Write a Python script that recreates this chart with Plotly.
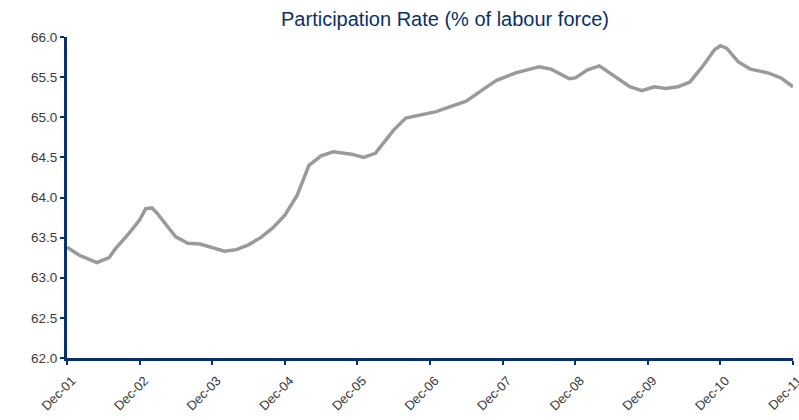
import plotly.graph_objects as go

# Participation rate, % of labour force
dates = [
    "2001-12-01", "2002-02-01", "2002-05-01", "2002-07-01", "2002-08-01", "2002-10-01",
    "2002-12-01", "2003-01-01", "2003-02-01", "2003-03-01", "2003-06-01", "2003-08-01",
    "2003-10-01", "2003-12-01", "2004-02-01", "2004-04-01", "2004-06-01", "2004-08-01",
    "2004-10-01", "2004-12-01", "2005-02-01", "2005-04-01", "2005-06-01", "2005-08-01",
    "2005-11-01", "2006-01-01", "2006-03-01", "2006-06-01", "2006-08-01", "2007-01-01",
    "2007-06-01", "2007-10-01", "2007-11-01", "2008-02-01", "2008-06-01", "2008-08-01",
    "2008-11-01", "2008-12-01", "2009-02-01", "2009-04-01", "2009-09-01", "2009-11-01",
    "2010-01-01", "2010-03-01", "2010-05-01", "2010-07-01", "2010-09-01", "2010-11-01",
    "2010-12-01", "2011-01-01", "2011-03-01", "2011-05-01", "2011-08-01", "2011-10-01",
    "2011-12-01",
]
rate = [
    63.38, 63.28, 63.19, 63.25, 63.36, 63.53,
    63.72, 63.86, 63.87, 63.80, 63.51, 63.43,
    63.42, 63.37, 63.33, 63.35, 63.41, 63.50,
    63.62, 63.78, 64.03, 64.40, 64.52, 64.57,
    64.54, 64.50, 64.55, 64.84, 64.99, 65.07,
    65.20, 65.41, 65.46, 65.55, 65.63, 65.60,
    65.48, 65.49, 65.59, 65.64, 65.38, 65.33,
    65.38, 65.36, 65.38, 65.44, 65.63, 65.84,
    65.89, 65.86, 65.69, 65.60, 65.55, 65.49,
    65.38,
]

tick_dates = [f"{y}-12-01" for y in range(2001, 2012)]
tick_labels = [f"Dec-{y % 100:02d}" for y in range(2001, 2012)]
y_ticks = [62.0, 62.5, 63.0, 63.5, 64.0, 64.5, 65.0, 65.5, 66.0]

navy = "#0b3068"
font = "Liberation Sans, Arial, sans-serif"

fig = go.Figure(
    go.Scatter(
        x=dates, y=rate, mode="lines",
        line=dict(color="#9a9a9c", width=3.5),
        hoverinfo="x+y",
    )
)

fig.update_layout(
    width=799, height=420,
    margin=dict(l=67, r=6, t=37, b=62),
    paper_bgcolor="white", plot_bgcolor="white",
    showlegend=False,
    title=dict(
        text="Participation Rate (% of labour force)",
        x=416 / 799, xanchor="center", xref="paper",
        y=1 - 19 / 420, yanchor="middle", yref="container",
        font=dict(family=font, size=20, color=navy),
    ),
    xaxis=dict(
        type="date",
        range=["2001-12-01", "2011-12-01"],
        tickvals=tick_dates, ticktext=tick_labels,
        tickangle=-45,
        automargin=False,
        ticklabeloverflow="allow",
        ticklabelstandoff=3,
        ticklabelshift=5,
        showgrid=False, zeroline=False,
        showline=True, linecolor=navy, linewidth=3,
        ticks="outside", ticklen=4, tickwidth=2, tickcolor=navy,
        tickfont=dict(family=font, size=13, color="#3a3a3a"),
    ),
    yaxis=dict(
        range=[62.0, 66.0],
        tickvals=y_ticks, ticktext=[f"{v:.1f}" for v in y_ticks],
        automargin=False,
        showgrid=False, zeroline=False,
        showline=True, linecolor=navy, linewidth=3,
        ticks="outside", ticklen=4, tickwidth=2, tickcolor=navy,
        tickfont=dict(family=font, size=13.5, color="#3a3a3a"),
    ),
)

fig.write_html("out.html")
